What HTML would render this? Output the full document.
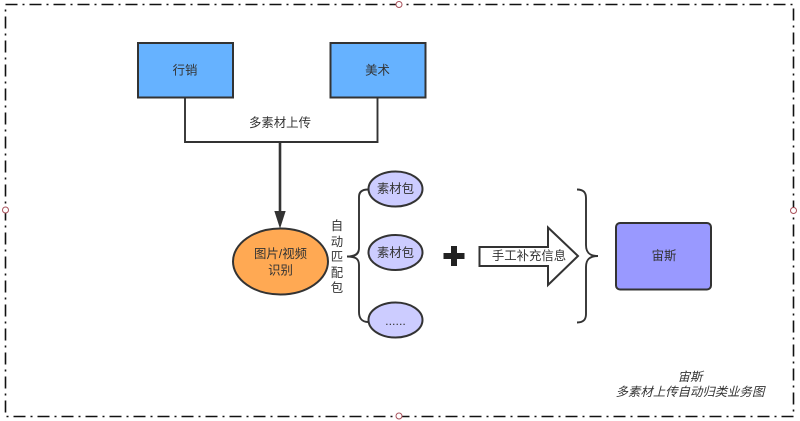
<!DOCTYPE html>
<html>
<head>
<meta charset="utf-8">
<style>
html,body{margin:0;padding:0;background:#fff;width:800px;height:421px;overflow:hidden}
svg{display:block}
text{font-family:"Liberation Sans","Noto Sans CJK SC",sans-serif;font-size:12.4px;fill:#333;text-anchor:middle}
</style>
</head>
<body>
<svg width="800" height="421" viewBox="0 0 800 421" xmlns="http://www.w3.org/2000/svg">
<rect width="800" height="421" fill="#fff"/>
<rect x="5.500" y="4.500" width="788" height="412" fill="none" stroke="#111" stroke-width="1.600" stroke-dasharray="12 5 2 5"/>
<g fill="#fff" stroke="#a8505a" stroke-width="1">
<circle cx="399" cy="4.500" r="3"/>
<circle cx="5.500" cy="210" r="3"/>
<circle cx="793.500" cy="210.500" r="3"/>
<circle cx="399" cy="416" r="3"/>
</g>

<rect x="138" y="43" width="95" height="54.500" fill="#66b2ff" stroke="#333" stroke-width="2"/>
<rect x="330.500" y="43" width="95" height="54.500" fill="#66b2ff" stroke="#333" stroke-width="2"/>
<text x="185" y="74.500">行销</text>
<text x="377.500" y="74.500">美术</text>

<path d="M185 97.500V142H377.500V97.500" fill="none" stroke="#333" stroke-width="1.900"/>
<text x="280" y="127">多素材上传</text>
<path d="M280 142V214" fill="none" stroke="#333" stroke-width="2.600"/>
<path d="M275 211.500L280 227L285 211.500Z" fill="#333" stroke="#333" stroke-width="1"/>

<ellipse cx="280.500" cy="261.500" rx="47.500" ry="33" fill="#ffa953" stroke="#333" stroke-width="2"/>
<text x="280.500" y="258">图片/视频</text>
<text x="280.500" y="274.500">识别</text>

<g>
<text x="337" y="230">自</text>
<text x="337" y="246">动</text>
<text x="337" y="261">匹</text>
<text x="337" y="277">配</text>
<text x="337" y="292">包</text>
</g>

<path d="M347 256.500C354 256.500 359 254 359 248V197C359 192 362 189.500 368 189.500M359 265V312C359 318 362 322 368 322M359 248C359 254 356 256.500 347 256.500C356 256.500 359 259 359 265" fill="none" stroke="#333" stroke-width="1.900"/>

<g fill="#ccccff" stroke="#333" stroke-width="2">
<ellipse cx="395.500" cy="189" rx="27" ry="17.500"/>
<ellipse cx="395.500" cy="252.500" rx="27" ry="17.500"/>
<ellipse cx="395.500" cy="320" rx="27" ry="17.500"/>
</g>
<text x="395.500" y="193">素材包</text>
<text x="395.500" y="257">素材包</text>
<text x="395.500" y="325" font-size="10">......</text>

<path d="M451 246H457V253H464.500V259H457V266H451V259H443.500V253H451Z" fill="#222"/>

<path d="M479.500 247H548V227.500L578 256L548 285V266H479.500Z" fill="#fff" stroke="#333" stroke-width="2"/>
<text x="529" y="260">手工补充信息</text>

<path d="M577 189.500C583 189.500 586 192 586 198V245C586 252 589 256 598 256C589 256 586 260 586 267V314C586 320 583 322.500 577 322.500" fill="none" stroke="#333" stroke-width="1.900"/>

<rect x="616" y="223" width="95" height="66.500" rx="4" fill="#9999ff" stroke="#333" stroke-width="2"/>
<text x="664" y="260">宙斯</text>

<text x="690" y="381" font-style="italic" fill="#222">宙斯</text>
<text x="690" y="396" font-style="italic" fill="#222">多素材上传自动归类业务图</text>
</svg>
</body>
</html>
